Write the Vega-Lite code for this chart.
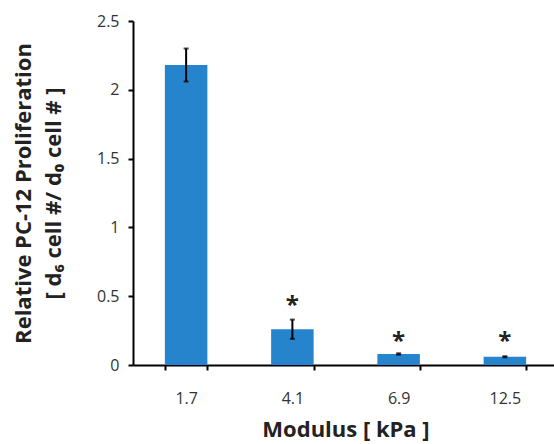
{
  "$schema": "https://vega.github.io/schema/vega-lite/v6.json",
  "autosize": "none",
  "width": 425,
  "height": 344,
  "padding": {"left": 133, "top": 21, "right": 0, "bottom": 79},
  "background": "white",
  "config": {
    "view": {"stroke": null},
    "font": "Open Sans"
  },
  "data": {
    "values": [
      {"modulus": "1.7", "mean": 2.18, "lo": 2.06, "hi": 2.30, "star": null},
      {"modulus": "4.1", "mean": 0.26, "lo": 0.19, "hi": 0.33, "star": 0.48},
      {"modulus": "6.9", "mean": 0.08, "lo": 0.075, "hi": 0.085, "star": 0.22},
      {"modulus": "12.5", "mean": 0.06, "lo": 0.056, "hi": 0.064, "star": 0.22}
    ]
  },
  "encoding": {
    "x": {
      "field": "modulus",
      "type": "nominal",
      "sort": null,
      "scale": {"paddingInner": 0.6, "paddingOuter": 0.3},
      "axis": {
        "title": "Modulus [ kPa ]",
        "titleFontSize": 22,
        "titleFontWeight": "bold",
        "titleColor": "#222",
        "titlePadding": 13,
        "labelAngle": 0,
        "labelFontSize": 16,
        "labelColor": "#333",
        "labelPadding": 20,
        "tickBand": "extent",
        "tickSize": 5,
        "tickWidth": 2,
        "tickColor": "black",
        "domainColor": "black",
        "domainWidth": 2
      }
    }
  },
  "layer": [
    {
      "mark": {"type": "bar", "color": "#2684cc"},
      "encoding": {
        "y": {
          "field": "mean",
          "type": "quantitative",
          "scale": {"domain": [0, 2.5], "nice": false},
          "axis": {
            "values": [0, 0.5, 1, 1.5, 2, 2.5],
            "format": "~g",
            "grid": false,
            "title": ["Relative PC-12 Proliferation", "[ d₆ cell #/ d₀ cell # ]"],
            "titleFontSize": 22,
            "titleFontWeight": "bold",
            "titleColor": "#222",
            "titlePadding": 31,
            "titleLineHeight": 30,
            "labelFontSize": 16,
            "labelColor": "#333",
            "labelPadding": 9,
            "tickSize": 5,
            "tickWidth": 2,
            "tickColor": "black",
            "domainColor": "black",
            "domainWidth": 2
          }
        }
      }
    },
    {
      "mark": {"type": "rule", "color": "black", "strokeWidth": 2},
      "encoding": {
        "y": {"field": "lo", "type": "quantitative"},
        "y2": {"field": "hi"}
      }
    },
    {
      "mark": {"type": "tick", "color": "black", "thickness": 2, "size": 5},
      "encoding": {"y": {"field": "lo", "type": "quantitative"}}
    },
    {
      "mark": {"type": "tick", "color": "black", "thickness": 2, "size": 5},
      "encoding": {"y": {"field": "hi", "type": "quantitative"}}
    },
    {
      "transform": [{"filter": "datum.star != null"}],
      "mark": {"type": "text", "text": "*", "fontSize": 24, "fontWeight": "bold", "color": "#222", "baseline": "middle", "dy": 7},
      "encoding": {"y": {"field": "star", "type": "quantitative"}}
    }
  ]
}
